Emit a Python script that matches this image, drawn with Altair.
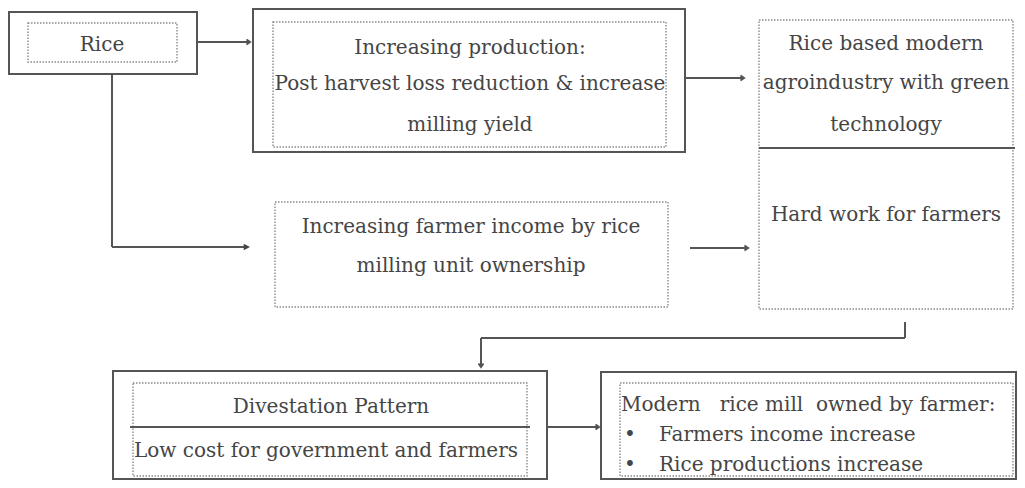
import altair as alt
import pandas as pd

# ---- boxes (image pixel coordinates) ----
solid_names = ["Rice", "Production", "Divestation", "Modern"]
solid_x1 = [9, 253, 113, 601]
solid_y1 = [12, 9, 371, 372]
solid_x2 = [197, 685, 547, 1016]
solid_y2 = [74, 152, 479, 479]

dotted_names = ["Rice", "Production", "Agroindustry", "Farmer income", "Divestation", "Modern"]
dotted_x1 = [28, 273, 759, 275, 133, 620]
dotted_y1 = [23, 22, 20, 202, 383, 383]
dotted_x2 = [177, 666, 1013, 668, 527, 1013]
dotted_y2 = [62, 147, 309, 307, 476, 476]

# ---- connector / divider lines ----
line_x1 = [759, 130, 197, 112, 112, 685, 690, 905, 481, 481, 547]
line_y1 = [148, 427, 42, 74, 247, 78, 248, 322, 338, 338, 427]
line_x2 = [1015, 530, 250, 112, 248, 743, 747, 905, 905, 481, 599]
line_y2 = [148, 427, 42, 247, 247, 78, 248, 338, 338, 366, 427]

# ---- arrow heads ----
open_head_x = [250, 744, 748, 599]
open_head_y = [42, 78, 248, 427]
down_head_x = [481]
down_head_y = [367]
filled_head_x = [250]
filled_head_y = [247]

# ---- texts ----
center_texts = ["Rice", "Increasing production:", "Post harvest loss reduction & increase",
                "milling yield", "Rice based modern", "agroindustry with green", "technology",
                "Hard work for farmers", "Increasing farmer income by rice",
                "milling unit ownership", "Divestation Pattern"]
center_x = [102, 470, 470, 470, 886, 886, 886, 886, 471, 471, 331]
center_y = [45, 48, 84, 125, 44, 83, 125, 215, 227, 266, 407]

left_texts = ["Low cost for government and farmers",
              "Modern\u00a0\u00a0\u00a0rice mill\u00a0 owned by farmer:",
              "•", "Farmers income increase", "•", "Rice productions increase"]
left_x = [134, 621, 624, 659, 624, 659]
left_y = [451, 405, 435, 435, 465, 465]

FONT = "DejaVu Serif"
TXT = "#454545"
LINE = "#555555"

xs = alt.Scale(domain=[8, 1017], nice=False, zero=False)
ys = alt.Scale(domain=[8, 480], nice=False, zero=False, reverse=True)

def X(f):
    return alt.X(f, type="quantitative", scale=xs, axis=None)

def Y(f):
    return alt.Y(f, type="quantitative", scale=ys, axis=None)

solid_df = pd.DataFrame({"name": solid_names, "x1": solid_x1, "y1": solid_y1,
                         "x2": solid_x2, "y2": solid_y2})
dotted_df = pd.DataFrame({"name": dotted_names, "x1": dotted_x1, "y1": dotted_y1,
                          "x2": dotted_x2, "y2": dotted_y2})
lines_df = pd.DataFrame({"x1": line_x1, "y1": line_y1, "x2": line_x2, "y2": line_y2})
open_df = pd.DataFrame({"x": open_head_x, "y": open_head_y})
down_df = pd.DataFrame({"x": down_head_x, "y": down_head_y})
filled_df = pd.DataFrame({"x": filled_head_x, "y": filled_head_y})
ctext_df = pd.DataFrame({"t": center_texts, "x": center_x, "y": center_y})
ltext_df = pd.DataFrame({"t": left_texts, "x": left_x, "y": left_y})

solid = alt.Chart(solid_df).mark_rect(fillOpacity=0, stroke=LINE, strokeWidth=2).encode(
    x=X("x1"), x2="x2", y=Y("y1"), y2="y2")

dotted = alt.Chart(dotted_df).mark_rect(fillOpacity=0, stroke="#8a8a8a", strokeWidth=1.4,
                                         strokeDash=[1.5, 1.5]).encode(
    x=X("x1"), x2="x2", y=Y("y1"), y2="y2")

lines = alt.Chart(lines_df).mark_rule(stroke=LINE, strokeWidth=2).encode(
    x=X("x1"), x2="x2", y=Y("y1"), y2="y2")

open_heads = alt.Chart(open_df).mark_point(
    shape="M -1 -0.7 L 0 0 L -1 0.7", filled=False, stroke=LINE, strokeWidth=2,
    size=50, opacity=1).encode(x=X("x"), y=Y("y"))

down_heads = alt.Chart(down_df).mark_point(
    shape="M -0.7 -1 L 0 0 L 0.7 -1", filled=False, stroke=LINE, strokeWidth=2,
    size=50, opacity=1).encode(x=X("x"), y=Y("y"))

filled_heads = alt.Chart(filled_df).mark_point(
    shape="M -2 -1 L 0 0 L -2 1 Z", filled=True, fill="#444444", size=40,
    opacity=1).encode(x=X("x"), y=Y("y"))

ctext = alt.Chart(ctext_df).mark_text(font=FONT, fontSize=20, color=TXT, align="center",
                                      baseline="middle").encode(
    x=X("x"), y=Y("y"), text="t:N")

ltext = alt.Chart(ltext_df).mark_text(font=FONT, fontSize=20, color=TXT, align="left",
                                      baseline="middle").encode(
    x=X("x"), y=Y("y"), text="t:N")

chart = alt.layer(solid, dotted, lines, open_heads, down_heads, filled_heads, ctext, ltext).properties(
    width=1009, height=472, padding=0, autosize=alt.AutoSizeParams(type="none"),
    background="white"
).configure_view(stroke=None)

chart.save("out.html", embed_options={"renderer": "svg", "actions": False})
